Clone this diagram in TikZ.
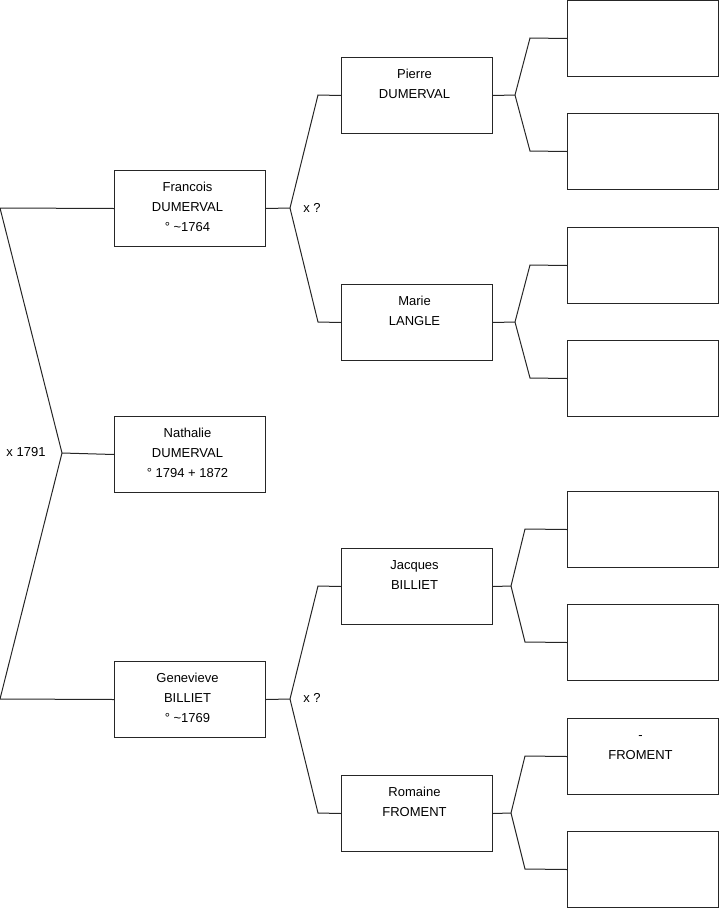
\documentclass[tikz,border=0pt]{standalone}
\usepackage{fontspec}
\setmainfont{Liberation Sans}
\begin{document}
\begin{tikzpicture}[x=1pt,y=-1pt,
  person/.style={draw=black!85, line width=1pt, minimum width=151pt, minimum height=76pt, inner sep=0pt, anchor=north west},
  ptext/.style={anchor=north, inner sep=0pt, align=center, font=\fontsize{13}{20}\selectfont, yshift=-7.5pt, xshift=-2.5pt},
  lbl/.style={inner sep=0pt, font=\fontsize{13}{15}\selectfont},
  link/.style={draw=black!85, line width=1pt}]
\useasboundingbox (0,0) rectangle (719,908);
% boxes
\node[person] (F) at (114,170) {};
\node[person] (N) at (114,416) {};
\node[person] (G) at (114,661) {};
\node[person] (P) at (341,57) {};
\node[person] (M) at (341,284) {};
\node[person] (J) at (341,548) {};
\node[person] (R) at (341,775) {};
\node[person] (R1) at (567,0) {};
\node[person] (R2) at (567,113) {};
\node[person] (R3) at (567,227) {};
\node[person] (R4) at (567,340) {};
\node[person] (R5) at (567,491) {};
\node[person] (R6) at (567,604) {};
\node[person] (R7) at (567,718) {};
\node[person] (R8) at (567,831) {};
% texts
\node[ptext] (tF) at (F.north) {\strut Francois\\\strut DUMERVAL\\\strut ° \textasciitilde1764};
\node[ptext] (tN) at (N.north) {\strut Nathalie\\\strut DUMERVAL\\\strut ° 1794 + 1872};
\node[ptext] (tG) at (G.north) {\strut Genevieve\\\strut BILLIET\\\strut ° \textasciitilde1769};
\node[ptext] (tP) at (P.north) {\strut Pierre\\\strut DUMERVAL};
\node[ptext] (tM) at (M.north) {\strut Marie\\\strut LANGLE};
\node[ptext] (tJ) at (J.north) {\strut Jacques\\\strut BILLIET};
\node[ptext] (tR) at (R.north) {\strut Romaine\\\strut FROMENT};
\node[ptext] (tR7) at (R7.north) {\strut -\\\strut FROMENT};
% junction coordinates
\coordinate (L1) at (0,208);
\coordinate (L2) at (0,699);
\coordinate (J0) at (62,453);
\coordinate (jF) at (290,208);
\coordinate (jFa) at (318,95);
\coordinate (jFb) at (318,322);
\coordinate (jG) at (290,699);
\coordinate (jGa) at (318,586);
\coordinate (jGb) at (318,813);
\coordinate (jP) at (515,95);
\coordinate (jPa) at (530,38);
\coordinate (jPb) at (530,151);
\coordinate (jM) at (515,322);
\coordinate (jMa) at (530,265);
\coordinate (jMb) at (530,378);
\coordinate (jJ) at (511,586);
\coordinate (jJa) at (525,529);
\coordinate (jJb) at (525,642);
\coordinate (jR) at (511,813);
\coordinate (jRa) at (525,756);
\coordinate (jRb) at (525,869);
% connectors
\draw[link] (F.west) -- (L1) -- (J0) -- (L2) -- (G.west);
\draw[link] (J0) -- (N.west);
\draw[link] (F.east) -- (jF);
\draw[link] (jF) -- (jFa) -- (P.west);
\draw[link] (jF) -- (jFb) -- (M.west);
\draw[link] (G.east) -- (jG);
\draw[link] (jG) -- (jGa) -- (J.west);
\draw[link] (jG) -- (jGb) -- (R.west);
\draw[link] (P.east) -- (jP);
\draw[link] (jP) -- (jPa) -- (R1.west);
\draw[link] (jP) -- (jPb) -- (R2.west);
\draw[link] (M.east) -- (jM);
\draw[link] (jM) -- (jMa) -- (R3.west);
\draw[link] (jM) -- (jMb) -- (R4.west);
\draw[link] (J.east) -- (jJ);
\draw[link] (jJ) -- (jJa) -- (R5.west);
\draw[link] (jJ) -- (jJb) -- (R6.west);
\draw[link] (R.east) -- (jR);
\draw[link] (jR) -- (jRa) -- (R7.west);
\draw[link] (jR) -- (jRb) -- (R8.west);
% marriage labels
\node[lbl] (m0) at (26,452) {x 1791};
\node[lbl] (m1) at (312,208) {x ?};
\node[lbl] (m2) at (312,698) {x ?};
\end{tikzpicture}
\end{document}
